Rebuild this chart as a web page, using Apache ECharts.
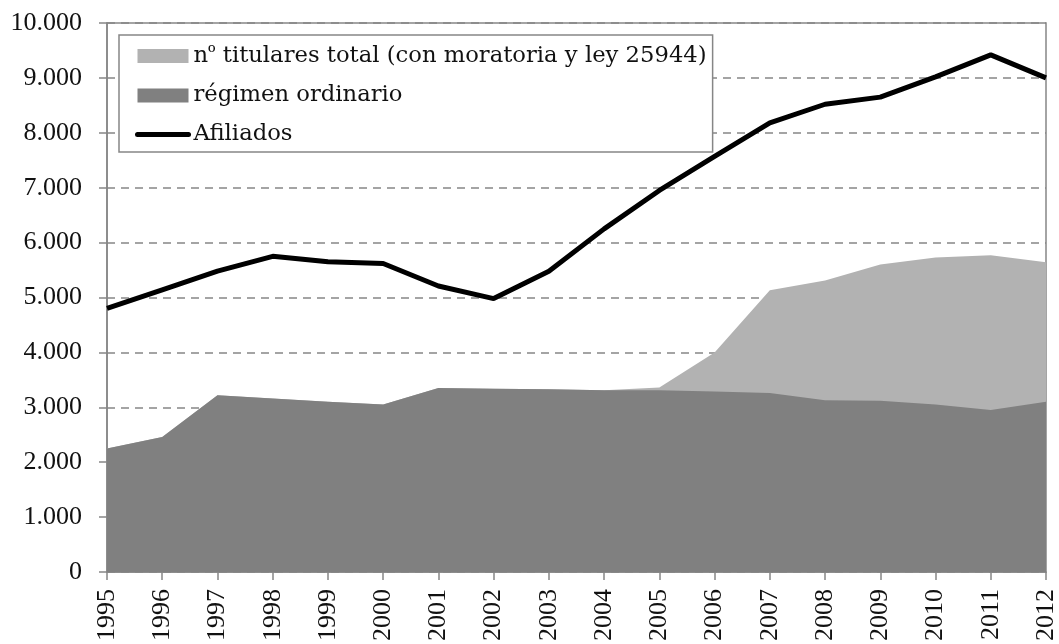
<!DOCTYPE html>
<html>
<head>
<meta charset="utf-8">
<script src="https://cdn.jsdelivr.net/npm/echarts@6/dist/echarts.min.js"></script>
<style>
  html, body { margin: 0; padding: 0; background: #fff; }
  #chart { width: 1059px; height: 644px; }
</style>
</head>
<body>
<div id="chart"></div>
<script>
  const years = ['1995', '1996', '1997', '1998', '1999', '2000', '2001', '2002', '2003',
    '2004', '2005', '2006', '2007', '2008', '2009', '2010', '2011', '2012'];
  const titularesTotal = [2250, 2460, 3220, 3160, 3100, 3050, 3350, 3340, 3330,
    3310, 3360, 4000, 5130, 5310, 5600, 5730, 5770, 5640];
  const regimenOrdinario = [2250, 2460, 3220, 3160, 3100, 3050, 3350, 3340, 3330,
    3310, 3310, 3290, 3260, 3130, 3120, 3050, 2950, 3100];
  const afiliados = [4800, 5140, 5480, 5750, 5650, 5620, 5210, 4980, 5480,
    6250, 6950, 7570, 8180, 8520, 8650, 9020, 9420, 9000];

  const names = ['nº titulares total (con moratoria y ley 25944)', 'régimen ordinario', 'Afiliados'];
  const font = 'Liberation Serif';
  const legendFont = 'DejaVu Serif';
  const axisGray = '#868686';

  const chart = echarts.init(document.getElementById('chart'), null, { renderer: 'canvas' });

  chart.setOption({
    animation: false,
    textStyle: { fontFamily: font },
    grid: {
      left: 107, right: 12, top: 23, bottom: 71,
      show: true, borderColor: axisGray, borderWidth: 1.5
    },
    legend: {
      orient: 'vertical',
      left: 119, top: 35,
      padding: [9, 6, 6, 16],
      itemGap: 16,
      itemWidth: 51,
      itemHeight: 14,
      borderColor: axisGray,
      borderWidth: 1.5,
      backgroundColor: '#fff',
      formatter: function (name) {
        return name.replace('º', '{o|º}');
      },
      textStyle: {
        fontFamily: legendFont, fontSize: 22.7, color: '#111',
        rich: { o: { fontFamily: font, fontSize: 24, color: '#111' } }
      },
      data: [
        { name: names[0], icon: 'rect', itemStyle: { color: '#b2b2b2' } },
        { name: names[1], icon: 'rect', itemStyle: { color: '#808080' } },
        { name: names[2], itemStyle: { opacity: 0 }, lineStyle: { width: 5, color: '#000', cap: 'round' } }
      ]
    },
    xAxis: {
      type: 'category',
      data: years,
      boundaryGap: false,
      axisLine: { lineStyle: { color: axisGray, width: 1.5 } },
      axisTick: { show: true, length: 8, alignWithLabel: true, lineStyle: { color: axisGray, width: 1.5 } },
      axisLabel: { rotate: 90, margin: 17, fontFamily: font, fontSize: 26, color: '#111', interval: 0 }
    },
    yAxis: {
      type: 'value',
      min: 0, max: 10000, interval: 1000,
      axisLine: { show: true, lineStyle: { color: axisGray, width: 1.5 } },
      axisTick: { show: true, length: 8, lineStyle: { color: axisGray, width: 1.5 } },
      axisLabel: {
        margin: 25, fontFamily: font, fontSize: 26, color: '#111',
        formatter: function (v) {
          return String(v).replace(/\B(?=(\d{3})+(?!\d))/g, '.');
        }
      },
      splitLine: { show: true, lineStyle: { color: axisGray, width: 1.5, type: [8, 6] } }
    },
    series: [
      {
        name: names[0],
        type: 'line',
        data: titularesTotal,
        symbol: 'none',
        lineStyle: { width: 0 },
        itemStyle: { color: '#b2b2b2' },
        areaStyle: { color: '#b2b2b2', opacity: 1 },
        z: 2
      },
      {
        name: names[1],
        type: 'line',
        data: regimenOrdinario,
        symbol: 'none',
        lineStyle: { width: 0 },
        itemStyle: { color: '#808080' },
        areaStyle: { color: '#808080', opacity: 1 },
        z: 3
      },
      {
        name: names[2],
        type: 'line',
        data: afiliados,
        symbol: 'none',
        itemStyle: { color: '#000' },
        lineStyle: { color: '#000', width: 5 },
        z: 4
      }
    ]
  });
</script>
</body>
</html>
